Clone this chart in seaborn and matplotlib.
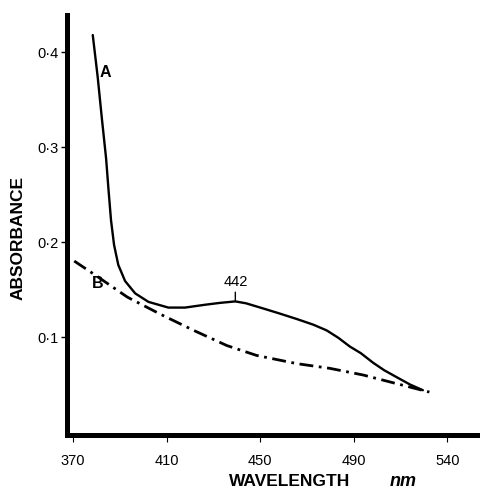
"""Absorbance spectra A and B (scanned figure recreation)."""

import matplotlib
matplotlib.use("Agg")
import matplotlib.pyplot as plt
import numpy as np
import pandas as pd
import seaborn as sns

# ---------------------------------------------------------------------------
# Data (x in the figure's own, evenly spaced units)
# ---------------------------------------------------------------------------
wl_a = [378.5, 380.6, 382.4, 384.2, 385.2, 386.3, 387.6, 389.4, 392.3, 396.6,
        402.3, 410.8, 417.9, 426.5, 433.0, 439.4, 444.0, 451.4, 458.0, 465.6,
        472.7, 478.4, 483.5, 488.3, 493.0, 498.2, 503.0, 508.1, 514.0, 519.5]
abs_a = [0.418, 0.374, 0.330, 0.288, 0.256, 0.223, 0.197, 0.176, 0.159, 0.146,
         0.137, 0.131, 0.131, 0.134, 0.136, 0.1375, 0.1355, 0.130, 0.125, 0.119,
         0.113, 0.107, 0.099, 0.090, 0.083, 0.073, 0.065, 0.058, 0.050, 0.044]

wl_b = [370.6, 379.1, 393.3, 407.4, 421.6, 435.8, 448.5, 465.6, 479.8, 494.0,
        508.1, 522.3]
abs_b = [0.180, 0.166, 0.142, 0.124, 0.107, 0.091, 0.0806, 0.072, 0.067, 0.060,
         0.051, 0.042]

tick_pos = [370, 410, 450, 490, 530]
tick_labels = ["370", "410", "450", "490", "540"]
ytick_pos = [0.1, 0.2, 0.3, 0.4]
ytick_labels = ["0·1", "0·2", "0·3", "0·4"]

peak_wl = 439.4
peak_label = "442"

# ---------------------------------------------------------------------------
sns.set_theme(style="ticks")
plt.rcParams["font.family"] = ["Liberation Sans", "DejaVu Sans"]
plt.rcParams.update({
    "text.color": "black",
    "axes.labelcolor": "black",
    "xtick.color": "black",
    "ytick.color": "black",
})

df_a = pd.DataFrame({"wavelength": wl_a, "absorbance": abs_a})
df_b = pd.DataFrame({"wavelength": wl_b, "absorbance": abs_b})

fig = plt.figure(figsize=(4.81, 4.94), dpi=100)
ax = fig.add_axes([0.1393, 0.1194, 0.861, 0.850])

sns.lineplot(data=df_a, x="wavelength", y="absorbance", ax=ax, color="black",
             linewidth=1.7, sort=False)
sns.lineplot(data=df_b, x="wavelength", y="absorbance", ax=ax, color="black",
             linewidth=2.0, linestyle=(0, (5, 2, 1, 2)), sort=False)

ax.set_xlim(367.5, 544.4)
ax.set_ylim(-0.0032, 0.439)

for side in ("top", "right"):
    ax.spines[side].set_visible(False)
for side in ("left", "bottom"):
    ax.spines[side].set_linewidth(3.6)
    ax.spines[side].set_color("black")

ax.set_xticks(tick_pos)
ax.set_xticklabels(tick_labels)
ax.set_yticks(ytick_pos)
ax.set_yticklabels(ytick_labels)
ax.tick_params(axis="x", direction="out", length=5, width=0.8, pad=9,
               labelsize=10.5)
ax.tick_params(axis="y", direction="out", length=4, width=1.0, pad=2,
               labelsize=10.5)

ax.set_xlabel("")
ax.set_ylabel("ABSORBANCE", fontweight="bold", fontsize=12.5)
ax.yaxis.set_label_coords(-0.100, 0.469)
fig.text(0.603, 0.026, "WAVELENGTH", fontweight="bold", fontsize=12.5,
         ha="center", va="center")
fig.text(0.838, 0.026, "nm", fontweight="bold", style="italic", fontsize=13,
         ha="center", va="center")

# curve labels
ax.text(383.8, 0.379, "A", fontweight="bold", fontsize=11.5,
        ha="center", va="center")
ax.text(380.5, 0.156, "B", fontweight="bold", fontsize=11.5,
        ha="center", va="center")

# peak marker
peak_y = np.interp(peak_wl, wl_a, abs_a)
ax.annotate(peak_label, xy=(peak_wl, peak_y), xytext=(0, 9),
            textcoords="offset points", ha="center", va="bottom", fontsize=10.5,
            arrowprops=dict(arrowstyle="-", color="black", lw=1.0,
                            shrinkA=0, shrinkB=0))

fig.savefig("out.png", dpi=100)
